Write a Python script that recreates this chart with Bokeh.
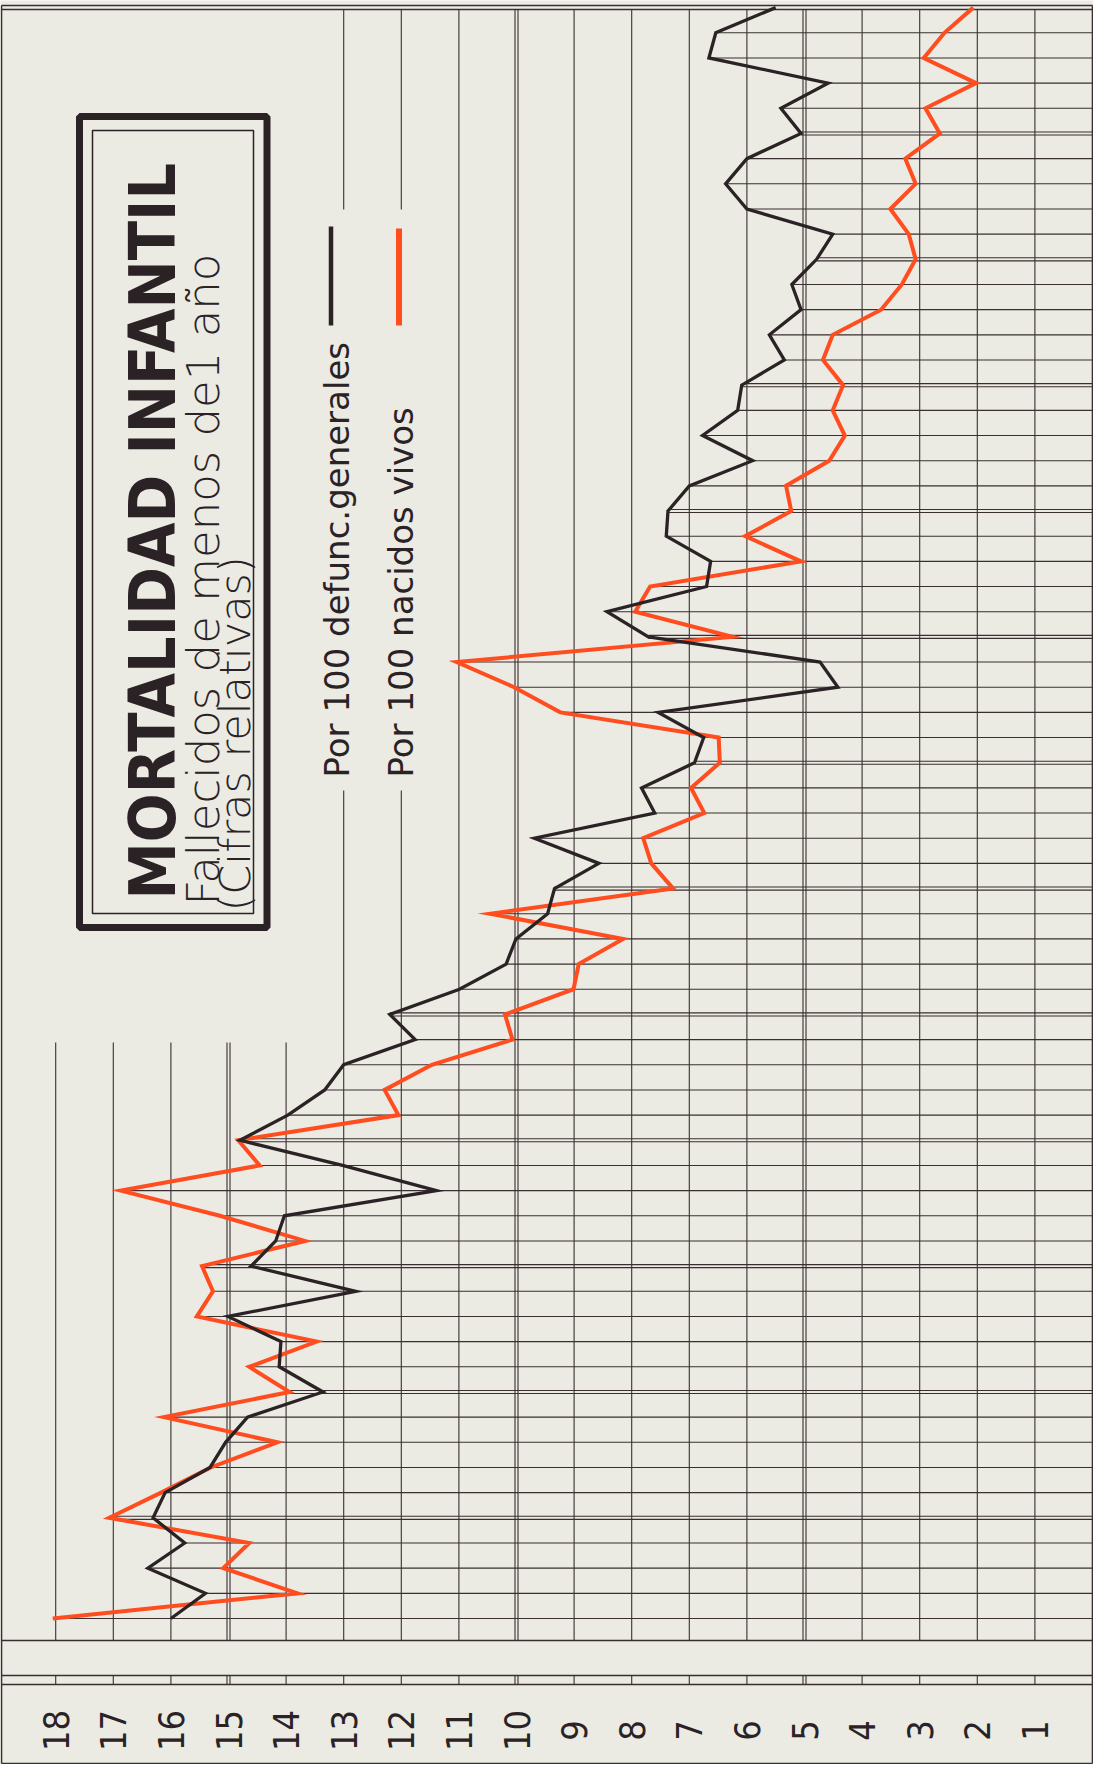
import math
from bokeh.plotting import figure
from bokeh.models import Range1d
from bokeh.core.properties import value
from bokeh.embed import file_html
from bokeh.resources import INLINE

# ---------------- data (chronological order: bottom of the sheet -> top) ----------------
periodo = list(range(65))  # consecutive years, oldest first

por_100_defunciones = [
    16.00, 15.40, 16.40, 15.76, 16.31, 16.10, 15.32, 15.05, 14.67, 13.36,
    14.12, 14.09, 15.01, 12.79, 14.61, 14.18, 14.03, 11.39, 13.02, 14.80,
    13.97, 13.33, 13.00, 11.76, 12.20, 10.99, 10.18, 10.01, 9.46, 9.34,
    8.57, 9.69, 7.60, 7.83, 6.91, 6.75, 7.54, 4.42, 4.73, 7.71,
    8.43, 6.70, 6.63, 7.40, 7.37, 7.00, 5.90, 6.77, 6.16, 6.09,
    5.35, 5.61, 5.06, 5.22, 4.79, 4.51, 6.00, 6.37, 6.00, 5.06,
    5.41, 4.59, 6.66, 6.54, 5.50,
]

por_100_nacidos = [
    18.05, 13.80, 15.09, 14.64, 17.07, 16.17, 15.31, 14.15, 16.12, 13.94,
    14.64, 13.47, 15.55, 15.27, 15.46, 13.67, 15.15, 16.87, 14.46, 14.83,
    12.05, 12.29, 11.47, 10.07, 10.20, 9.01, 8.92, 8.15, 10.46, 7.28,
    7.66, 7.80, 6.74, 6.97, 6.47, 6.49, 9.24, 10.04, 11.04, 6.25,
    7.94, 7.68, 5.06, 6.03, 5.23, 5.32, 4.57, 4.30, 4.51, 4.33,
    4.68, 4.51, 3.67, 3.31, 3.07, 3.19, 3.51, 3.07, 3.25, 2.65,
    2.90, 2.02, 2.93, 2.57, 2.07,
]

valores = list(range(1, 19))
etiquetas = [str(v) for v in valores]

titulo = "MORTALIDAD INFANTIL"
subtitulo = "Fallecidos de menos de1 año"
nota = "(Cifras relativas)"
leyenda_def = "Por 100 defunc.generales"
leyenda_nac = "Por 100 nacidos vivos"

# ---------------- styling ----------------
BG = "#ebeae3"
GRID = "#3a2f30"
INK = "#2a2224"
ORANGE = "#ff4d1f"

# layout helpers (page pixel -> data units of the rotated sheet)
def vx(px):
    return (1100 - px) / 57.6

def ty(py):
    return (1626 - py) / 25.17

W, H = 1093, 1764
p = figure(width=W, height=H, output_backend="svg", toolbar_location=None,
           x_range=Range1d(vx(8), vx(8 + W)), y_range=Range1d(ty(8 + H), ty(8)),
           x_axis_type=None, y_axis_type=None, min_border=0,
           background_fill_color=BG, border_fill_color=BG, outline_line_color=None)
p.xgrid.visible = False
p.ygrid.visible = False

V_LEFT = vx(9)
V_RIGHT = 0.0
T_GRID_BOTTOM = ty(1648)
T_STRIP1, T_STRIP2 = ty(1683), ty(1692)
T_BOTTOM = ty(1771)

# ---------------- frame ----------------
fx0, fy0, fx1, fy1 = [], [], [], []
for yy in (ty(13), ty(17), T_GRID_BOTTOM, T_STRIP1, T_STRIP2, T_BOTTOM):
    fx0.append(V_LEFT); fx1.append(V_RIGHT); fy0.append(yy); fy1.append(yy)
for xx in (V_LEFT, V_RIGHT):
    fx0.append(xx); fx1.append(xx); fy0.append(ty(13)); fy1.append(T_BOTTOM)
p.segment(x0=fx0, y0=fy0, x1=fx1, y1=fy1, line_color=GRID, line_width=1.6)

# ---------------- vertical value lines ----------------
gx0, gy0, gx1, gy1 = [], [], [], []
for v in valores:
    if v <= 11:
        spans = [(ty(17), T_GRID_BOTTOM)]
    elif v <= 13:
        spans = [(ty(17), ty(217)), (ty(798), T_GRID_BOTTOM)]
    else:
        spans = [(ty(1050), T_GRID_BOTTOM)]
    offs = [-0.026, 0.026] if v % 5 == 0 else [0.0]
    for o in offs:
        for a, b in spans:
            gx0.append(v + o); gx1.append(v + o); gy0.append(a); gy1.append(b)
        gx0.append(v + o); gx1.append(v + o); gy0.append(T_STRIP1); gy1.append(T_STRIP2)
p.segment(x0=gx0, y0=gy0, x1=gx1, y1=gy1, line_color=GRID, line_width=1.1)

# ---------------- horizontal year lines (start at the leftmost curve) ----------------
hx0, hy0, hx1, hy1 = [], [], [], []
n = len(periodo)
for i, t in enumerate(periodo):
    if i == n - 1:
        continue
    start = max(por_100_defunciones[i], por_100_nacidos[i])
    offs = [-0.06, 0.06] if (n - 1 - i) % 5 == 0 else [0.0]
    for o in offs:
        hx0.append(start); hx1.append(V_RIGHT); hy0.append(t + o); hy1.append(t + o)
p.segment(x0=hx0, y0=hy0, x1=hx1, y1=hy1, line_color=GRID, line_width=1.1)

# ---------------- series ----------------
p.line(x=por_100_nacidos, y=periodo, line_color=ORANGE, line_width=4, line_join="miter")
p.line(x=por_100_defunciones, y=periodo, line_color=INK, line_width=3.3, line_join="miter")

# ---------------- value labels ----------------
p.text(x=valores, y=[ty(1738)] * len(valores), text=etiquetas, angle=math.pi / 2,
       text_align="center", text_baseline="middle",
       text_font=value("Liberation Sans Narrow, DejaVu Sans Condensed, sans-serif"),
       text_font_size="36px", text_color=INK)

# ---------------- title box ----------------
p.quad(left=[vx(87)], right=[vx(274.5)], top=[ty(124)], bottom=[ty(935)],
       fill_color=None, line_color=INK, line_width=7)
p.quad(left=[vx(100)], right=[vx(261)], top=[ty(138)], bottom=[ty(921)],
       fill_color=None, line_color=INK, line_width=1.5)

p.text(x=[vx(160)], y=[ty(907)], text=[titulo], angle=math.pi / 2,
       text_align="left", text_baseline="alphabetic",
       text_font=value("DejaVu Sans Condensed, DejaVu Sans, sans-serif"),
       text_font_style="bold", text_font_size="64px", text_color=INK)
p.text(x=[vx(211)], y=[ty(913)], text=[subtitulo], angle=math.pi / 2,
       text_align="left", text_baseline="alphabetic",
       text_font=value("DejaVu Sans Light, DejaVu Sans, sans-serif"),
       text_font_size="45px", text_color=INK)
p.text(x=[vx(242)], y=[ty(919)], text=[nota], angle=math.pi / 2,
       text_align="left", text_baseline="alphabetic",
       text_font=value("DejaVu Sans Light, DejaVu Sans, sans-serif"),
       text_font_size="43px", text_color=INK)

# ---------------- legend ----------------
p.text(x=[vx(344), vx(408)], y=[ty(785), ty(785)], text=[leyenda_def, leyenda_nac],
       angle=math.pi / 2, text_align="left", text_baseline="alphabetic",
       text_font=value("DejaVu Sans"), text_font_size="34px", text_color=INK)
p.segment(x0=[vx(338.5)], y0=[ty(333)], x1=[vx(338.5)], y1=[ty(234)],
          line_color=INK, line_width=4.5)
p.segment(x0=[vx(406.5)], y0=[ty(333)], x1=[vx(406.5)], y1=[ty(236)],
          line_color=ORANGE, line_width=6)

open("out.html", "w").write(file_html(p, INLINE))
